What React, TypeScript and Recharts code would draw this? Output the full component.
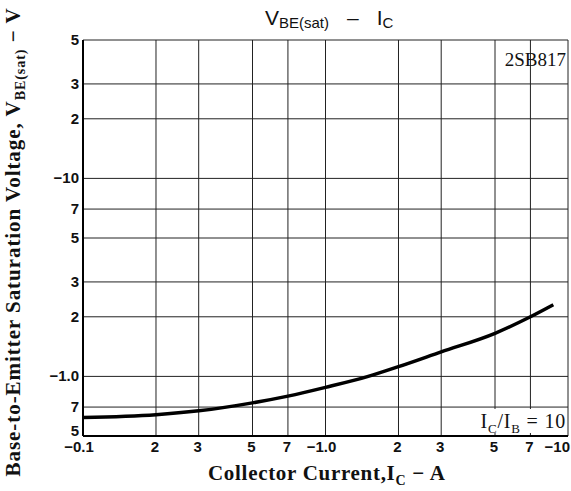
import { CartesianGrid, Line, LineChart, XAxis, YAxis } from "recharts";

// collector current (A) and base-emitter saturation voltage (V)
const collectorCurrent = [0.1, 0.2, 0.3, 0.5, 0.7, 1.0, 1.5, 2, 3, 5, 7, 8.7];
const vbeSat = [0.62, 0.64, 0.67, 0.735, 0.795, 0.88, 1.0, 1.12, 1.33, 1.65, 2.0, 2.3];

const xTicks = [0.1, 0.2, 0.3, 0.5, 0.7, 1, 2, 3, 5, 7, 10];
const xTickLabels = ["−0.1", "2", "3", "5", "7", "−1.0", "2", "3", "5", "7", "−10"];
const yTicks = [0.5, 0.7, 1, 2, 3, 5, 7, 10, 20, 30, 50];
const yTickLabels = ["5", "7", "−1.0", "2", "3", "5", "7", "−10", "2", "3", "5"];

const chartData = collectorCurrent.map((ic, i) => ({ ic, vbe: vbeSat[i] }));

const tickFont = "'Liberation Sans', Arial, sans-serif";
const serif = "'Liberation Serif', 'Times New Roman', serif";

const XTick = (props: any) => {
  const { x, y, payload } = props;
  const idx = xTicks.indexOf(payload.value);
  const label = xTickLabels[idx] ?? "";
  const last = idx === xTicks.length - 1;
  const hasMinus = label.startsWith("−");
  return (
    <text
      x={last ? 570 : x}
      y={y + 8}
      dx={last ? 0 : hasMinus ? -4 : -1}
      textAnchor={last ? "end" : "middle"}
      fontSize={15}
      fontWeight="bold"
      fontFamily={tickFont}
      fill="#111"
    >
      {label}
    </text>
  );
};

const YTick = (props: any) => {
  const { x, y, payload } = props;
  const idx = yTicks.indexOf(payload.value);
  // bottom label sits a little above the axis so it clears the x labels
  const shift = idx === 0 ? -5 : 0;
  return (
    <text
      x={x + 4}
      y={y + 5 + shift}
      textAnchor="end"
      fontSize={15}
      fontWeight="bold"
      fontFamily={tickFont}
      fill="#111"
    >
      {yTickLabels[idx] ?? ""}
    </text>
  );
};

export default function App() {
  return (
    <div
      style={{
        position: "absolute",
        left: 0,
        top: 0,
        width: 571,
        height: 491,
        background: "#fff",
        overflow: "hidden",
      }}
    >
      <LineChart
        width={571}
        height={491}
        data={chartData}
        margin={{ top: 40, right: 3, bottom: 0, left: 0 }}
      >
        <CartesianGrid stroke="#222" strokeWidth={1} />
        <XAxis
          dataKey="ic"
          type="number"
          scale="log"
          domain={[0.1, 10]}
          ticks={xTicks}
          allowDataOverflow
          height={55}
          tickLine={false}
          axisLine={{ stroke: "#000", strokeWidth: 2 }}
          tick={<XTick />}
          interval={0}
        />
        <YAxis
          type="number"
          scale="log"
          domain={[0.5, 50]}
          ticks={yTicks}
          allowDataOverflow
          width={83}
          tickLine={false}
          axisLine={{ stroke: "#000", strokeWidth: 2 }}
          tick={<YTick />}
          interval={0}
        />
        <Line
          dataKey="vbe"
          type="monotone"
          stroke="#000"
          strokeWidth={3.5}
          dot={false}
          isAnimationActive={false}
        />
      </LineChart>

      {/* title */}
      <div
        style={{
          position: "absolute",
          left: 265,
          top: 6,
          fontFamily: tickFont,
          fontSize: 21,
          color: "#111",
          whiteSpace: "nowrap",
        }}
      >
        V<sub style={{ fontSize: 15, verticalAlign: "-3px" }}>BE(sat)</sub>
        <span style={{ margin: "0 18px" }}>–</span>I
        <sub style={{ fontSize: 15, verticalAlign: "-3px" }}>C</sub>
      </div>

      {/* part number */}
      <div
        style={{
          position: "absolute",
          right: 5,
          top: 49,
          fontFamily: serif,
          fontSize: 19,
          color: "#111",
        }}
      >
        2SB817
      </div>

      {/* condition */}
      <div
        style={{
          position: "absolute",
          right: 5,
          top: 409,
          padding: "0 0 0 4px",
          fontFamily: serif,
          fontSize: 20,
          lineHeight: "24px",
          letterSpacing: 0.8,
          color: "#111",
          background: "#fff",
          whiteSpace: "nowrap",
        }}
      >
        I<sub style={{ fontSize: 13, lineHeight: 0 }}>C</sub>/I
        <sub style={{ fontSize: 13, lineHeight: 0 }}>B</sub> = 10
      </div>

      {/* x axis title */}
      <div
        style={{
          position: "absolute",
          left: 208,
          top: 461,
          fontFamily: serif,
          fontWeight: "bold",
          fontSize: 21,
          lineHeight: "24px",
          letterSpacing: 0.7,
          color: "#111",
          whiteSpace: "nowrap",
        }}
      >
        Collector Current,I<sub style={{ fontSize: 14, lineHeight: 0 }}>C</sub> − A
      </div>

      {/* y axis title */}
      <div
        style={{
          position: "absolute",
          left: 13,
          top: 242,
          transform: "translate(-50%, -50%) rotate(-90deg)",
          fontFamily: serif,
          fontWeight: "bold",
          fontSize: 21,
          lineHeight: "24px",
          letterSpacing: 0.95,
          color: "#111",
          whiteSpace: "nowrap",
        }}
      >
        Base-to-Emitter Saturation Voltage, V
        <sub style={{ fontSize: 14, lineHeight: 0 }}>BE(sat)</sub> − V
      </div>
    </div>
  );
}
